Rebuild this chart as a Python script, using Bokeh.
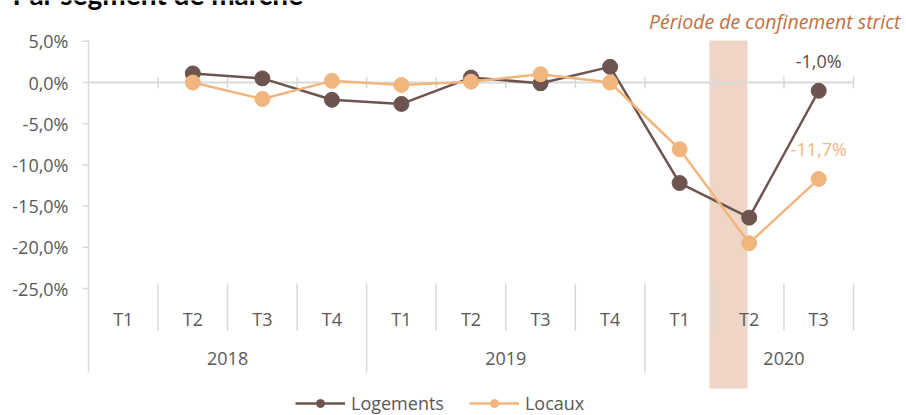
import math
from bokeh.plotting import figure
from bokeh.models import Range1d, ColumnDataSource, Label, Legend, LegendItem
from bokeh.core.properties import value
from bokeh.embed import file_html
from bokeh.resources import INLINE

# ---- data ----
quarters = ["T1", "T2", "T3", "T4", "T1", "T2", "T3", "T4", "T1", "T2", "T3"]
years = ["2018", "2019", "2020"]
year_start = [0, 4, 8]
logements = [math.nan, 1.1, 0.5, -2.1, -2.6, 0.6, -0.1, 1.9, -12.2, -16.4, -1.0]
locaux = [math.nan, 0.0, -2.0, 0.2, -0.3, 0.1, 1.0, 0.0, -8.1, -19.5, -11.7]
y_ticks = [5, 0, -5, -10, -15, -20, -25]
title = "Par segment de marché"
annotation = "Période de confinement strict"

# ---- style ----
FONT = "Open Sans"
BROWN = "#6E5450"
ORANGE = "#F1B67D"
GRID = "#D9D9D9"
TXT = "#595959"
BAND = "#EFD5C5"
PX = 8.24      # pixels per percent
CW = 69.545    # pixels per category
W, H = 906, 415
LEFT = 88


def fmt(v):
    return f"{v:.1f}".replace(".", ",") + "%"


def py(page_y):
    return (82 - page_y) / PX


def px(page_x):
    return (page_x - LEFT) / CW


n = len(quarters)
p = figure(width=W, height=H, x_range=Range1d(px(0), px(W)), y_range=Range1d(py(H), py(0)),
           x_axis_type=None, y_axis_type=None, min_border_left=0, min_border_right=0,
           min_border_top=0, min_border_bottom=0, output_backend="svg", toolbar_location=None)
p.xgrid.visible = False
p.ygrid.visible = False
p.outline_line_color = None

# shaded lockdown band
p.quad(left=px(709), right=px(747), top=py(40), bottom=py(388), color=BAND, line_color=None,
       level="underlay")

# y axis: tick marks and labels
nt = len(y_ticks)
p.segment(x0=[px(82)] * nt, y0=y_ticks, x1=[0] * nt, y1=y_ticks, line_color=GRID, line_width=1.5)
p.text(x=[px(68)] * nt, y=y_ticks, text=[fmt(t) for t in y_ticks], text_font=value(FONT),
       text_font_size="18px", text_color=TXT, text_align="right", text_baseline="middle")

# axis line (left) and zero line
p.segment(x0=[0], y0=[py(40)], x1=[0], y1=[py(372)], line_color=GRID, line_width=1.5)
p.segment(x0=[0], y0=[0], x1=[n], y1=[0], line_color=GRID, line_width=2)
bx = list(range(1, n + 1))
p.segment(x0=bx, y0=[0.7] * len(bx), x1=bx, y1=[-0.7] * len(bx), line_color=GRID, line_width=1.5)

# category separators
short_b = [b for b in bx if b not in year_start]
p.segment(x0=short_b, y0=[py(283)] * len(short_b), x1=short_b, y1=[py(330)] * len(short_b),
          line_color=GRID, line_width=1.5)
long_b = [b for b in year_start if b > 0]
p.segment(x0=long_b, y0=[py(283)] * len(long_b), x1=long_b, y1=[py(372)] * len(long_b),
          line_color=GRID, line_width=1.5)

# category labels
xs = [i + 0.5 for i in range(n)]
p.text(x=xs, y=[py(318)] * n, text=quarters, text_font=value(FONT), text_font_size="18px",
       text_color=TXT, text_align="center", text_baseline="middle")
p.text(x=[s + 2 for s in year_start], y=[py(358)] * len(years), text=years, text_font=value(FONT),
       text_font_size="18px", text_color=TXT, text_align="center", text_baseline="middle")

# series
src = ColumnDataSource(dict(x=xs, log=logements, loc=locaux))
l1 = p.line("x", "log", source=src, line_color=BROWN, line_width=2.5)
s1 = p.scatter("x", "log", source=src, size=15, fill_color=BROWN, line_color=BROWN)
l2 = p.line("x", "loc", source=src, line_color=ORANGE, line_width=2.5)
s2 = p.scatter("x", "loc", source=src, size=15, fill_color=ORANGE, line_color=ORANGE)

# end labels
p.add_layout(Label(x=xs[-1], y=logements[-1], y_offset=30, text=fmt(logements[-1]),
                   text_font=FONT, text_font_size="18px", text_color="#5E4A48",
                   text_align="center", text_baseline="middle"))
p.add_layout(Label(x=xs[-1], y=locaux[-1], y_offset=30, text=fmt(locaux[-1]),
                   text_font=FONT, text_font_size="18px", text_color=ORANGE,
                   text_align="center", text_baseline="middle"))

# annotation
p.add_layout(Label(x=px(900), y=py(21), text=annotation,
                   text_font=FONT, text_font_style="italic", text_font_size="19.5px",
                   text_color="#C46E3E", text_align="right", text_baseline="middle"))

# title (mostly above the visible area, as in the reference)
p.text(x=[px(12)], y=[py(-7)], text=[title], text_font=value("Lato"), text_font_style="bold",
       text_font_size="28px", text_color="#000000", text_align="left", text_baseline="alphabetic")

legend = Legend(items=[LegendItem(label="Logements", renderers=[l1, s1]),
                       LegendItem(label="Locaux", renderers=[l2, s2])],
                orientation="horizontal", location=(295, 0), padding=0, margin=0, spacing=25,
                glyph_width=50, label_standoff=6, border_line_color=None,
                background_fill_alpha=0, label_text_font=FONT, label_text_font_size="18px",
                label_text_color=TXT)
p.add_layout(legend)

open("out.html", "w").write(file_html(p, INLINE))
